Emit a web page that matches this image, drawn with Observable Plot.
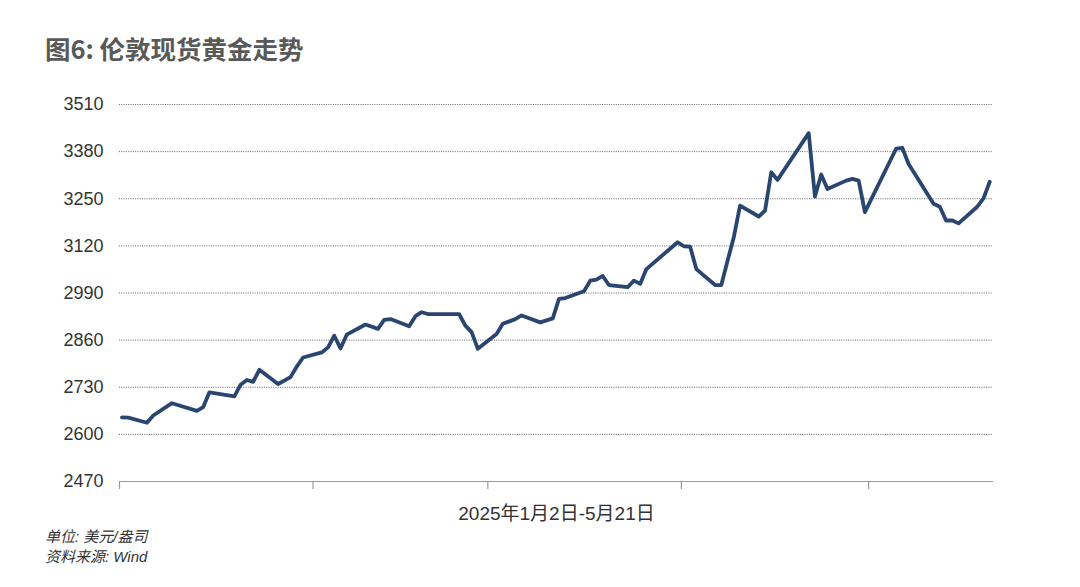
<!DOCTYPE html>
<html><head><meta charset="utf-8">
<script src="https://cdn.jsdelivr.net/npm/d3@7"></script>
<script src="https://cdn.jsdelivr.net/npm/@observablehq/plot@0.6"></script>
<style>
body{margin:0;background:#fff;width:1080px;height:587px;position:relative;overflow:hidden;font-family:"Liberation Sans","Noto Sans CJK SC",sans-serif;}
#title{position:absolute;left:45px;top:35px;font-weight:bold;font-size:25.5px;line-height:26px;font-family:"Noto Sans CJK SC",sans-serif;color:#595959;white-space:nowrap;}
#chart{position:absolute;left:0;top:80px;}
.foot{position:absolute;left:45px;font-size:15px;line-height:15px;font-style:italic;color:#333;white-space:nowrap;font-family:"Liberation Sans","Noto Sans CJK SC",sans-serif;}
</style></head><body>
<div id="title">图6: 伦敦现货黄金走势</div>
<div id="chart"></div>
<div class="foot" style="top:529px">单位: 美元/盎司</div>
<div class="foot" style="top:549px">资料来源: Wind</div>
<script>
const dates = ["2025-01-02","2025-01-03","2025-01-06","2025-01-07","2025-01-10","2025-01-14","2025-01-15","2025-01-16","2025-01-20","2025-01-21","2025-01-22","2025-01-23","2025-01-24","2025-01-27","2025-01-29","2025-01-30","2025-01-31",
"2025-02-03","2025-02-04","2025-02-05","2025-02-06","2025-02-07","2025-02-10","2025-02-12","2025-02-13","2025-02-14","2025-02-17","2025-02-18","2025-02-19","2025-02-20","2025-02-25","2025-02-26","2025-02-27","2025-02-28",
"2025-03-03","2025-03-04","2025-03-06","2025-03-07","2025-03-10","2025-03-12","2025-03-13","2025-03-14","2025-03-17","2025-03-18","2025-03-19","2025-03-20","2025-03-21","2025-03-24","2025-03-25","2025-03-26","2025-03-27",
"2025-04-01","2025-04-02","2025-04-03","2025-04-04","2025-04-07","2025-04-08","2025-04-09","2025-04-10","2025-04-11","2025-04-14","2025-04-15","2025-04-16","2025-04-17","2025-04-22","2025-04-23","2025-04-24","2025-04-25","2025-04-28","2025-04-29","2025-04-30",
"2025-05-01","2025-05-06","2025-05-07","2025-05-08","2025-05-12","2025-05-13","2025-05-14","2025-05-15","2025-05-16","2025-05-19","2025-05-20","2025-05-21"];
const prices = [2647,2646,2632,2652,2686,2665,2675,2716,2705,2737,2750,2745,2778,2739,2758,2787,2812,
2826,2840,2872,2837,2875,2903,2891,2916,2918,2898,2926,2937,2932,2932,2900,2882,2836,
2877,2905,2918,2928,2909,2920,2974,2976,2995,3024,3027,3037,3012,3006,3024,3015,3056,
3130,3119,3118,3056,3012,3012,3079,3144,3231,3201,3217,3323,3302,3431,3256,3317,3277,3300,3305,3300,
3213,3388,3390,3346,3236,3228,3190,3190,3182,3228,3251,3297];
const yTicks = [2470,2600,2730,2860,2990,3120,3250,3380,3510];
const monthStarts = ["2025-01-01","2025-02-01","2025-03-01","2025-04-01","2025-05-01"];
const xStart = "2025-01-01", xEnd = "2025-05-21";
const xLabel = "2025年1月2日-5月21日";

const data = dates.map((d, i) => ({date: new Date(d), price: prices[i]}));
const shift = 0.6 * 864e5; // align point placement with the month tick marks
const tickDates = monthStarts.map(d => new Date(+new Date(d) + shift));

const chart = Plot.plot({
  width: 1080,
  height: 460,
  marginTop: 24,
  marginBottom: 59,
  marginLeft: 119,
  marginRight: 87,
  style: {fontFamily: '"Liberation Sans","Noto Sans CJK SC",sans-serif', fontSize: "17px", color: "#333", background: "#fff", overflow: "visible"},
  x: {type: "utc", domain: [new Date(+new Date(xStart) + shift), new Date(+new Date(xEnd) + shift)]},
  y: {domain: [yTicks[0], yTicks[yTicks.length - 1]]},
  marks: [
    Plot.gridY(yTicks.slice(1), {stroke: "#666", strokeOpacity: 1, strokeDasharray: "1,1.3", strokeWidth: 1}),
    Plot.ruleY([yTicks[0]], {stroke: "#9a9a9a", strokeWidth: 1.2}),
    Plot.axisY({ticks: yTicks, tickSize: 0, tickPadding: 16, tickFormat: d3.format("d"), fontSize: 18, label: null, color: "#333"}),
    Plot.axisX({ticks: tickDates, tickSize: 8, tickFormat: () => "", stroke: "#9a9a9a", strokeWidth: 1.2, label: xLabel, labelAnchor: "center", labelArrow: "none", labelOffset: 38, fontSize: 19, color: "#333"}),
    Plot.line(data, {x: "date", y: "price", stroke: "#2a4670", strokeWidth: 3.8, strokeLinejoin: "round", strokeLinecap: "round"})
  ]
});
document.getElementById("chart").appendChild(chart);
</script>
</body></html>
